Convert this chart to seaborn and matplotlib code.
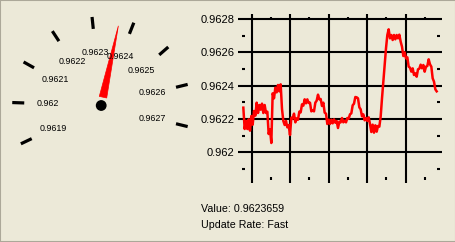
import numpy as np
import pandas as pd
import matplotlib
matplotlib.use("Agg")
import matplotlib.pyplot as plt
import seaborn as sns
from matplotlib.patches import Polygon, Circle, Rectangle
from matplotlib import font_manager

# ---------------- data ----------------
gauge_values = [0.9619, 0.9620, 0.9621, 0.9622, 0.9623, 0.9624, 0.9625, 0.9626, 0.9627]
gauge_labels = ["0.9619", "0.962", "0.9621", "0.9622", "0.9623", "0.9624", "0.9625", "0.9626", "0.9627"]
current_value = 0.9623659
value_text = "Value: 0.9623659"
rate_text = "Update Rate: Fast"

chart_yticks = [0.9620, 0.9622, 0.9624, 0.9626, 0.9628]
chart_ylabels = ["0.962", "0.9622", "0.9624", "0.9626", "0.9628"]
chart_minor_y = [0.9619, 0.9621, 0.9623, 0.9625, 0.9627]

history_part1 = [0.962268, 0.962140, 0.962188, 0.962140, 0.962198, 0.962130, 0.962218, 0.962166, 0.962248, 0.962220,
                 0.962298, 0.962236, 0.962284, 0.962256, 0.962292, 0.962236, 0.962284, 0.962236, 0.962244, 0.962110,
                 0.962138, 0.962056, 0.962354, 0.962324, 0.962388, 0.962360, 0.962404, 0.962366, 0.962408, 0.962260,
                 0.962188, 0.962164, 0.962188, 0.962150, 0.962164, 0.962104, 0.962208, 0.962204, 0.962232, 0.962180,
                 0.962204, 0.962196, 0.962244, 0.962240, 0.962288, 0.962280, 0.962318]
history_part2 = [0.962294, 0.962318, 0.962296, 0.962298, 0.962246, 0.962252, 0.962246, 0.962298, 0.962310, 0.962346,
                 0.962318, 0.962320, 0.962278, 0.962298, 0.962238, 0.962232, 0.962170, 0.962196, 0.962170, 0.962196,
                 0.962174, 0.962198, 0.962178, 0.962188, 0.962146, 0.962184, 0.962180, 0.962206, 0.962180, 0.962190,
                 0.962180, 0.962206, 0.962202, 0.962228, 0.962234, 0.962282, 0.962292, 0.962332, 0.962330, 0.962324,
                 0.962270, 0.962258, 0.962216, 0.962228, 0.962192, 0.962206, 0.962188, 0.962210, 0.962170]
history_part3 = [0.962122, 0.962166, 0.962118, 0.962162, 0.962124, 0.962158, 0.962154, 0.962214, 0.962324, 0.962424,
                 0.962524, 0.962624, 0.962704, 0.962738, 0.962684, 0.962704, 0.962674, 0.962704, 0.962678, 0.962704,
                 0.962684, 0.962706, 0.962664, 0.962634, 0.962578, 0.962600, 0.962564, 0.962570, 0.962514, 0.962508,
                 0.962484, 0.962504, 0.962464, 0.962474, 0.962454, 0.962498, 0.962502, 0.962526, 0.962504, 0.962524,
                 0.962484, 0.962514, 0.962518, 0.962558, 0.962528, 0.962514, 0.962444, 0.962424, 0.962378, 0.962366]

history = history_part1 + history_part2 + history_part3
df = pd.DataFrame({"sample": np.arange(len(history)), "value": history})

# ---------------- style ----------------
BG = "#ECE9D8"
W, H = 456, 242
fig = plt.figure(figsize=(W / 100, H / 100), dpi=100, facecolor=BG)


def has_font(name):
    try:
        font_manager.findfont(font_manager.FontProperties(family=name), fallback_to_default=False)
        return True
    except Exception:
        return False


narrow = has_font("Liberation Sans Narrow")
axis_font = dict(family="Liberation Sans Narrow", size=9.4) if narrow else dict(family="Liberation Sans", size=8.0)

# ---------------- gauge (pixel canvas) ----------------
gx = fig.add_axes([0, 0, 1, 1])
gx.set_xlim(0, W)
gx.set_ylim(H, 0)
gx.axis("off")
gx.set_facecolor(BG)

cx, cy = 101.2, 105.5
start_deg, span_deg = 205.5, 219.2
vmin, vmax = gauge_values[0], gauge_values[-1]


def angle_of(v):
    return np.deg2rad(start_deg - (v - vmin) / (vmax - vmin) * span_deg)


def pt(r, a):
    return cx + r * np.cos(a), cy - r * np.sin(a)


for v, lab in zip(gauge_values, gauge_labels):
    a = angle_of(v)
    x0, y0 = pt(77, a)
    x1, y1 = pt(89, a)
    gx.plot([x0, x1], [y0, y1], color="black", lw=2.3, solid_capstyle="butt")
    lx, ly = pt(53, a)
    gx.text(lx, ly, lab, ha="center", va="center", fontsize=6.4, family="Liberation Sans", color="black")

a = angle_of(current_value)
perp = a + np.pi / 2
bx, by = pt(8.5, a)
hw = 3.8
left = (bx + hw * np.cos(perp), by - hw * np.sin(perp))
right = (bx - hw * np.cos(perp), by + hw * np.sin(perp))
tip = pt(81.5, a)
gx.add_patch(Polygon([left, right, tip], closed=True, facecolor="#FF0000", edgecolor="#FF0000", lw=0.5))
gx.add_patch(Circle((cx, cy), 4.7, facecolor="black", edgecolor="black"))

gx.text(200.7, 209, value_text, ha="left", va="center", fontsize=7.7, family="Liberation Sans")
gx.text(200.7, 224.5, rate_text, ha="left", va="center", fontsize=7.7, family="Liberation Sans")

# ---------------- strip chart ----------------
ax = fig.add_axes([237.5 / W, 1 - 182.5 / H, 204.5 / W, 168.5 / H])
ax.patch.set_alpha(0)
sns.lineplot(data=df, x="sample", y="value", ax=ax, color="#FF0000", lw=1.8,
             estimator=None, legend=False, zorder=3)
ax.set_xlim(-4.375, 149.0)
ax.set_ylim(0.961819, 0.96283)

grid_step = 28.875
grid_x = 6.3 + grid_step * np.arange(5)
minor_x = grid_x + grid_step / 2

ax.set_xticks(grid_x)
ax.set_xticklabels([])
ax.set_yticks(chart_yticks)
ax.set_yticklabels(chart_ylabels, fontdict=axis_font)
ax.tick_params(axis="both", length=0, pad=2.3)
ax.grid(True, color="black", lw=1.5)
for s in ax.spines.values():
    s.set_visible(False)
ax.set_xlabel("")
ax.set_ylabel("")

ytr = ax.get_yaxis_transform()
xtr = ax.get_xaxis_transform()
ax.hlines(chart_minor_y, 0.0235, 0.037, transform=ytr, color="black", lw=1.5)
ax.hlines(chart_minor_y, 0.977, 0.990, transform=ytr, color="black", lw=1.5)
ax.vlines(minor_x, 0.971, 0.985, transform=xtr, color="black", lw=1.5)
ax.vlines(minor_x, 0.014, 0.031, transform=xtr, color="black", lw=1.5)

# window border
fig.add_artist(Rectangle((0, 0), 1, 1, transform=fig.transFigure, fill=False, ec="#ACA899", lw=1.5))

fig.savefig("out.png", dpi=100, facecolor=BG)
